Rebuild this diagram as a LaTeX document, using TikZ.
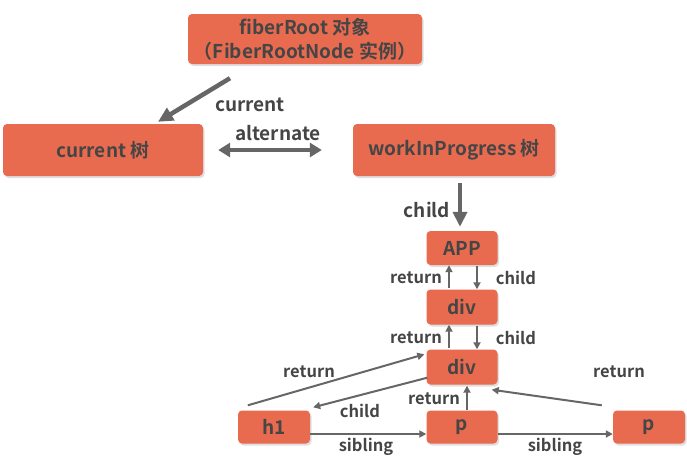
\documentclass[tikz,border=0pt]{standalone}
\usepackage{fontspec}
\setmainfont{Noto Sans CJK SC}[BoldFont={Noto Sans CJK SC Bold}]
\usetikzlibrary{arrows.meta,shadows}
\definecolor{boxred}{HTML}{E86B50}
\definecolor{txtgray}{HTML}{454545}
\definecolor{arrgray}{HTML}{666666}
\tikzset{
  fiber/.style={fill=boxred, rounded corners=4pt, text=txtgray, inner sep=0pt,
    font=\bfseries\fontsize{19}{24}\selectfont, align=center,
    drop shadow={opacity=0.25, shadow xshift=1.5pt, shadow yshift=-2pt}},
  biglbl/.style={text=txtgray, font=\bfseries\fontsize{19}{22}\selectfont, inner sep=0pt},
  lbl/.style={text=txtgray, font=\bfseries\fontsize{16.5}{20}\selectfont, inner sep=0pt},
  thickarr/.style={draw=arrgray, line width=4.5pt, -{Triangle[length=15pt,width=14pt]}},
  thinarr/.style={draw=arrgray, line width=2pt, -{Triangle[length=7pt,width=7pt]}}
}
\begin{document}
\begin{tikzpicture}[x=1pt,y=-1pt]
  \useasboundingbox (0,0) rectangle (687,456);
  % tree nodes
  \node[fiber, minimum width=234pt, minimum height=50pt] (root) at (305,39)
    {fiberRoot 对象\\（FiberRootNode 实例）};
  \node[fiber, minimum width=200pt, minimum height=52pt] (cur) at (103,150) {current 树};
  \node[fiber, minimum width=202pt, minimum height=52pt] (wip) at (454,150) {workInProgress 树};
  \node[fiber, minimum width=71pt, minimum height=34pt] (app) at (462,248) {APP};
  \node[fiber, minimum width=71pt, minimum height=35pt] (div1) at (462,307) {div};
  \node[fiber, minimum width=71pt, minimum height=35pt] (div2) at (462,367) {div};
  \node[fiber, minimum width=72pt, minimum height=33pt] (h1) at (274,427) {h1};
  \node[fiber, minimum width=71pt, minimum height=33pt] (p1) at (462,427) {p};
  \node[fiber, minimum width=72pt, minimum height=33pt] (p2) at (649,427) {p};
  % labels
  \node[biglbl] (lcur) at (250,105) {current};
  \node[biglbl] (lalt) at (278,133) {alternate};
  \node[biglbl] (lchild) at (427,210) {child};
  \node[lbl] (lret1) at (416,278) {return};
  \node[lbl] (lchd1) at (516,278) {child};
  \node[lbl] (lret2) at (416,338) {return};
  \node[lbl] (lchd2) at (516,338) {child};
  \node[lbl] (lret3) at (309,372) {return};
  \node[lbl] (lchd3) at (360,411) {child};
  \node[lbl] (lret4) at (434,399) {return};
  \node[lbl] (lret5) at (619,372) {return};
  \node[lbl] (lsib1) at (366,447) {sibling};
  \node[lbl] (lsib2) at (555,447) {sibling};
  % connectors
  \draw[thickarr] ([xshift=-75pt,yshift=-14pt]root.south)
    -- ([xshift=55pt,yshift=2pt]cur.north);
  \draw[thickarr, {Triangle[length=12pt,width=14pt]}-{Triangle[length=12pt,width=14pt]}, line width=4pt]
    ([xshift=15pt]cur.east) -- ([xshift=-31pt]wip.west);
  \draw[thickarr, shorten <=7pt, shorten >=4pt] ([xshift=6pt]wip.south) -- ([xshift=-2pt]app.north);
  \draw[thinarr, shorten <=1pt] ([xshift=-13pt]div1.north) -- ([xshift=-13pt]app.south);
  \draw[thinarr, shorten <=1pt] ([xshift=15pt]app.south) -- ([xshift=15pt]div1.north);
  \draw[thinarr, shorten <=1pt] ([xshift=-13pt]div2.north) -- ([xshift=-13pt]div1.south);
  \draw[thinarr, shorten <=1pt] ([xshift=15pt]div1.south) -- ([xshift=15pt]div2.north);
  \draw[thinarr] ([xshift=10pt,yshift=5pt]h1.north west)
    -- ([xshift=-2pt,yshift=-5pt]div2.north west);
  \draw[thinarr] ([xshift=1pt,yshift=7pt]div2.south west)
    -- ([xshift=3pt,yshift=3pt]h1.north east);
  \draw[thinarr] ([xshift=5pt]p1.north) -- ([xshift=5pt,yshift=-1pt]div2.south);
  \draw[thinarr] ([xshift=-11pt,yshift=5pt]p2.north west)
    -- ([xshift=-6pt,yshift=-5pt]div2.south east);
  \draw[thinarr] ([yshift=-7pt]h1.east) -- ([yshift=-7pt]p1.west);
  \draw[thinarr] ([yshift=-7pt]p1.east) -- ([yshift=-7pt]p2.west);
\end{tikzpicture}
\end{document}
